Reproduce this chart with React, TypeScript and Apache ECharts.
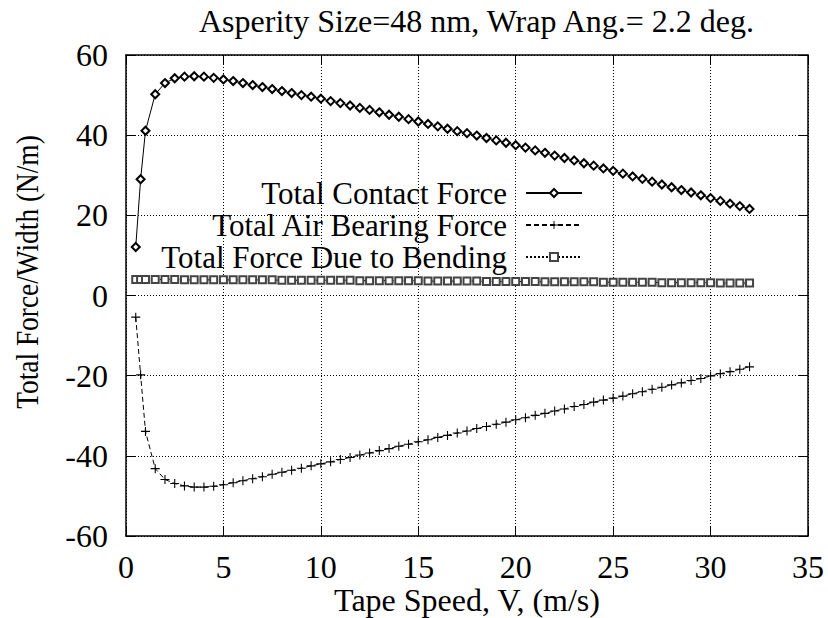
import React, { useEffect, useRef } from 'react';
import * as echarts from 'echarts';

const titleText = 'Asperity Size=48 nm, Wrap Ang.= 2.2 deg.';
const xName = 'Tape Speed, V, (m/s)';
const yName = 'Total Force/Width (N/m)';
const seriesNames = ['Total Contact Force', 'Total Air Bearing Force', 'Total Force Due to Bending'];

const speeds = [
  0.5, 0.75, 1, 1.5, 2, 2.5, 3, 3.5, 4, 4.5, 5,
  5.5, 6, 6.5, 7, 7.5, 8, 8.5, 9, 9.5, 10,
  10.5, 11, 11.5, 12, 12.5, 13, 13.5, 14, 14.5, 15,
  15.5, 16, 16.5, 17, 17.5, 18, 18.5, 19, 19.5, 20,
  20.5, 21, 21.5, 22, 22.5, 23, 23.5, 24, 24.5, 25,
  25.5, 26, 26.5, 27, 27.5, 28, 28.5, 29, 29.5, 30,
  30.5, 31, 31.5, 32,
];

const contactForce = [
  12.1, 29.0, 41.1, 50.2, 53.0, 54.2, 54.6, 54.7, 54.6, 54.3, 53.9,
  53.5, 53.0, 52.5, 52.0, 51.5, 51.0, 50.5, 50.0, 49.6, 49.1,
  48.5, 48.0, 47.4, 46.8, 46.3, 45.7, 45.1, 44.6, 44.0, 43.4,
  42.8, 42.2, 41.6, 41.0, 40.5, 39.9, 39.3, 38.7, 38.1, 37.5,
  36.9, 36.2, 35.6, 34.9, 34.3, 33.7, 33.0, 32.4, 31.7, 31.1,
  30.4, 29.7, 29.1, 28.4, 27.7, 27.0, 26.3, 25.7, 25.0, 24.3,
  23.6, 22.9, 22.3, 21.6,
];

const airBearingForce = [
  -5.4, -19.8, -33.9, -43.2, -45.9, -46.9, -47.5, -47.8, -47.8, -47.6, -47.2,
  -46.7, -46.2, -45.7, -45.2, -44.6, -44.1, -43.6, -43.1, -42.5, -42.0,
  -41.5, -40.9, -40.4, -39.8, -39.3, -38.7, -38.2, -37.6, -37.1, -36.5,
  -36.0, -35.4, -34.9, -34.3, -33.8, -33.2, -32.7, -32.1, -31.6, -31.0,
  -30.5, -29.9, -29.4, -28.8, -28.3, -27.7, -27.2, -26.6, -26.1, -25.6,
  -25.1, -24.5, -24.0, -23.4, -22.9, -22.3, -21.8, -21.2, -20.7, -20.1,
  -19.5, -19.0, -18.4, -17.8,
];

const bendingForce = [
  4.0, 4.0, 4.0, 4.0, 4.0, 4.0, 3.9, 3.9, 3.9, 3.9, 3.9,
  3.9, 3.9, 3.9, 3.9, 3.9, 3.8, 3.8, 3.8, 3.8, 3.8,
  3.8, 3.8, 3.8, 3.7, 3.7, 3.7, 3.7, 3.7, 3.7, 3.7,
  3.6, 3.6, 3.6, 3.6, 3.6, 3.6, 3.5, 3.5, 3.5, 3.5,
  3.5, 3.5, 3.4, 3.4, 3.4, 3.4, 3.4, 3.4, 3.3, 3.3,
  3.3, 3.3, 3.3, 3.3, 3.2, 3.2, 3.2, 3.2, 3.2, 3.2,
  3.1, 3.1, 3.1, 3.1,
];

const FONT = "'Liberation Serif', 'Times New Roman', serif";
const PLUS = 'path://M4.4,0H5.6V4.4H10V5.6H5.6V10H4.4V5.6H0V4.4H4.4Z';

const zip = (ys: number[]) => speeds.map((x, i) => [x, ys[i]]);

export default function App() {
  const ref = useRef<HTMLDivElement>(null);
  useEffect(() => {
    if (!ref.current) return;
    const chart = echarts.init(ref.current, undefined, { renderer: 'svg' });
    const axisCommon = {
      type: 'value' as const,
      axisLine: { show: true, onZero: false, lineStyle: { color: '#000', width: 1.5 } },
      axisTick: { show: true, inside: true, length: 9, lineStyle: { color: '#000', width: 1 } },
    };
    const gridLine = { show: true, lineStyle: { color: '#000', width: 1, type: [1, 2] } };
    chart.setOption({
      animation: false,
      backgroundColor: '#fff',
      textStyle: { fontFamily: FONT },
      title: {
        text: titleText,
        left: 194,
        top: 0,
        textStyle: { fontFamily: FONT, fontSize: 32, fontWeight: 'normal', color: '#000' },
      },
      grid: { left: 126, right: 20, top: 55, bottom: 82, show: false, containLabel: false, outerBoundsMode: 'none' },
      legend: {
        orient: 'vertical',
        align: 'right',
        right: 240,
        top: 172,
        itemWidth: 56,
        itemHeight: 10,
        itemGap: 0,
        selectedMode: false,
        textStyle: { fontFamily: FONT, fontSize: 31, lineHeight: 32, color: '#000', padding: [0, 14, 0, 0] },
        data: seriesNames,
      },
      xAxis: [
        {
          ...axisCommon,
          min: 0, max: 35, interval: 5,
          position: 'bottom',
          name: xName,
          nameLocation: 'middle',
          nameGap: 49,
          nameMoveOverlap: false,
          nameTextStyle: { fontFamily: FONT, fontSize: 32, lineHeight: 30, color: '#000' },
          axisLabel: { fontFamily: FONT, fontSize: 32, lineHeight: 26, color: '#000', margin: 18 },
          splitLine: gridLine,
        },
        {
          ...axisCommon,
          min: 0, max: 35, interval: 5,
          position: 'top',
          axisLabel: { show: false },
          splitLine: { show: false },
        },
      ],
      yAxis: [
        {
          ...axisCommon,
          min: -60, max: 60, interval: 20,
          position: 'left',
          axisLabel: { fontFamily: FONT, fontSize: 32, color: '#000', margin: 18 },
          splitLine: gridLine,
        },
        {
          ...axisCommon,
          min: -60, max: 60, interval: 20,
          position: 'right',
          axisLabel: { show: false },
          splitLine: { show: false },
        },
      ],
      graphic: [
        {
          type: 'text',
          x: 27,
          y: 272,
          rotation: Math.PI / 2,
          scaleX: 0.855,
          style: {
            text: yName,
            font: `32px ${FONT}`,
            fill: '#000',
            textAlign: 'center',
            textVerticalAlign: 'middle',
          },
        },
      ],
      series: [
        {
          name: seriesNames[0],
          type: 'line',
          data: zip(contactForce),
          symbol: 'emptyDiamond',
          symbolSize: 8,
          showAllSymbol: true,
          lineStyle: { color: '#000', width: 1, type: 'solid' },
          itemStyle: { color: '#000', borderColor: '#000', borderWidth: 1 },
          z: 3,
        },
        {
          name: seriesNames[1],
          type: 'line',
          data: zip(airBearingForce),
          symbol: PLUS,
          symbolSize: 9,
          showAllSymbol: true,
          lineStyle: { color: '#000', width: 1, type: [5, 3] },
          itemStyle: { color: '#000', borderWidth: 0 },
          z: 3,
        },
        {
          name: seriesNames[2],
          type: 'line',
          data: zip(bendingForce),
          symbol: 'emptyRect',
          symbolSize: 7,
          showAllSymbol: true,
          lineStyle: { color: '#000', width: 1, type: [2, 2] },
          itemStyle: { color: '#444', borderColor: '#444', borderWidth: 1 },
          z: 3,
        },
      ],
    });
    return () => chart.dispose();
  }, []);
  return (
    <div
      ref={ref}
      style={{ position: 'fixed', left: 0, top: 0, width: 828, height: 618, background: '#fff' }}
    />
  );
}
